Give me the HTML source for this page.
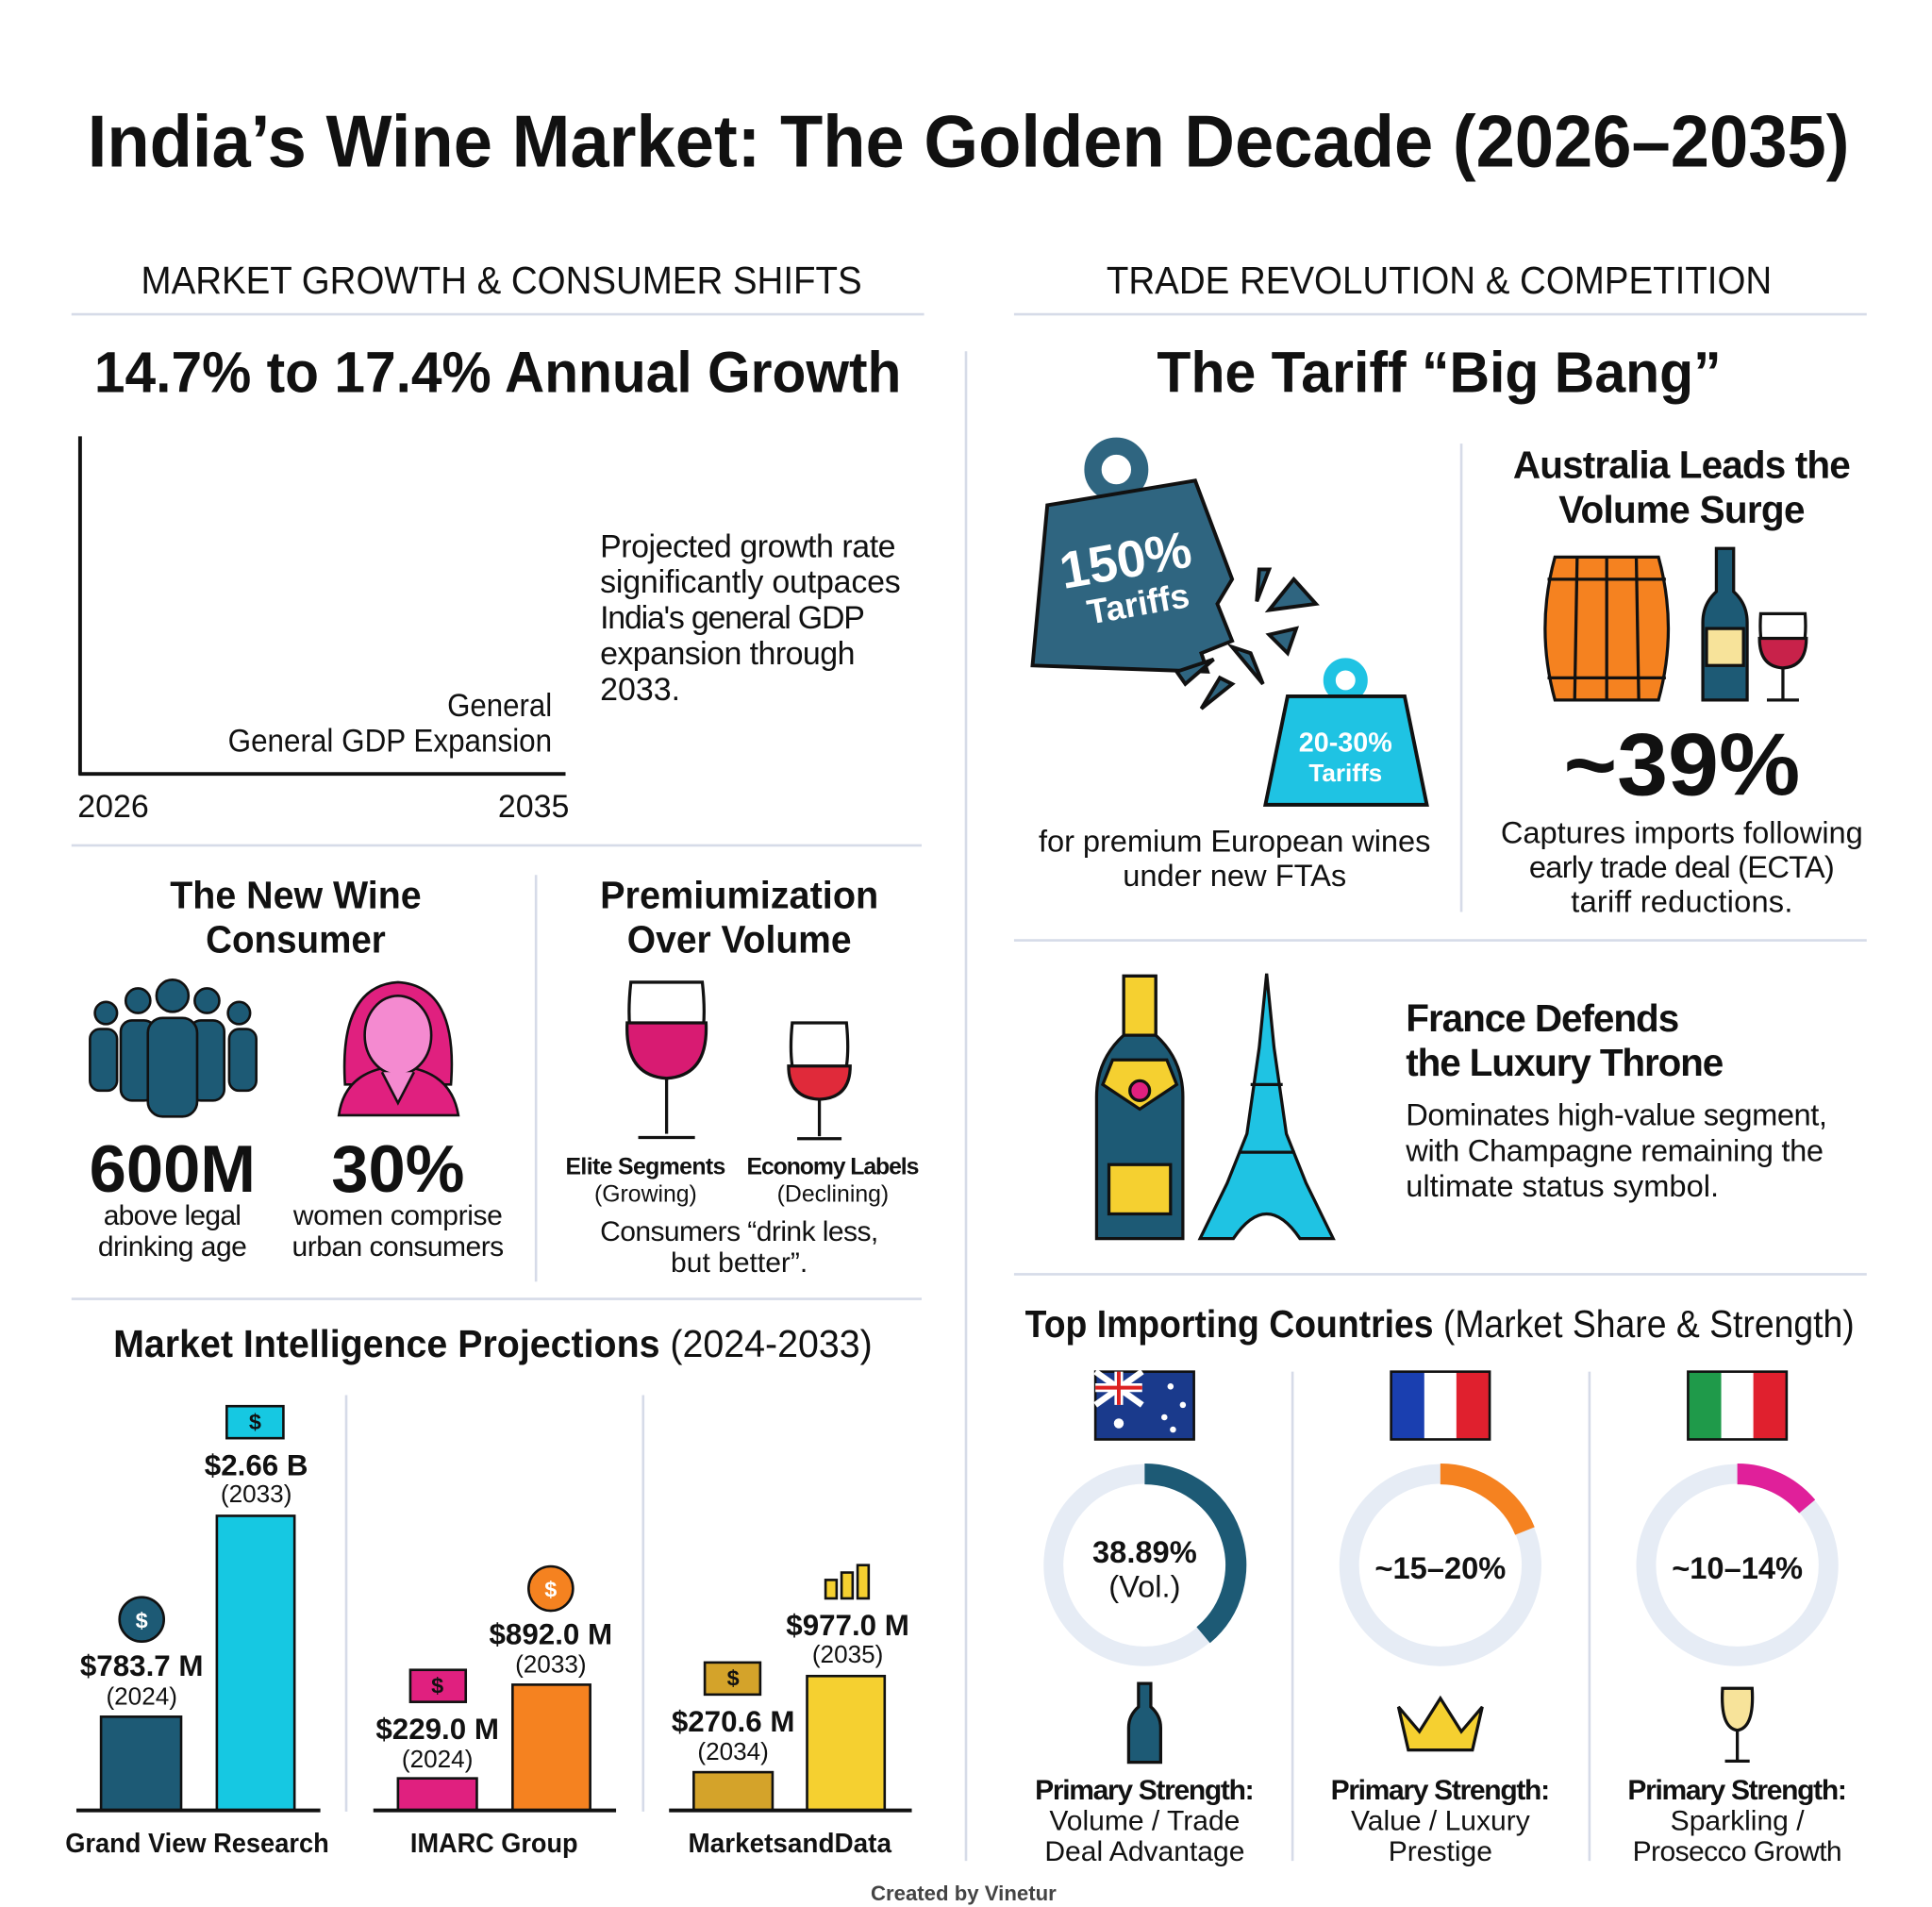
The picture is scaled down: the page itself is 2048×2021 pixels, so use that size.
<!DOCTYPE html>
<html><head><meta charset="utf-8"><style>
html,body{margin:0;padding:0;background:#fff;width:2048px;height:2021px;overflow:hidden}
svg{display:block}
text{font-family:"Liberation Sans",sans-serif;fill:#111}
.b{font-weight:bold}
</style></head><body>
<svg width="2048" height="2021" viewBox="0 0 1568 1547.4" preserveAspectRatio="none" xmlns="http://www.w3.org/2000/svg">
<rect width="1568" height="1548" fill="#fff"/>
<text x="786" y="135" text-anchor="middle" class="b" font-size="60" textLength="1430" lengthAdjust="spacingAndGlyphs">India’s Wine Market: The Golden Decade (2026–2035)</text>
<text x="407" y="238" text-anchor="middle" font-size="31" textLength="585" lengthAdjust="spacingAndGlyphs">MARKET GROWTH &amp; CONSUMER SHIFTS</text>
<text x="1168" y="238" text-anchor="middle" font-size="31" textLength="540" lengthAdjust="spacingAndGlyphs">TRADE REVOLUTION &amp; COMPETITION</text>
<g stroke="#d6dbe8" stroke-width="2">
<line x1="58" y1="255" x2="750" y2="255"/><line x1="823" y1="255" x2="1515" y2="255"/>
<line x1="784" y1="285" x2="784" y2="1510"/>
<line x1="58" y1="686" x2="748" y2="686"/>
<line x1="435" y1="710" x2="435" y2="1040"/>
<line x1="58" y1="1054" x2="748" y2="1054"/>
<line x1="281" y1="1132" x2="281" y2="1470"/><line x1="522" y1="1132" x2="522" y2="1470"/>
<line x1="1186" y1="360" x2="1186" y2="740"/>
<line x1="823" y1="763" x2="1515" y2="763"/>
<line x1="823" y1="1034" x2="1515" y2="1034"/>
<line x1="1049" y1="1113" x2="1049" y2="1510"/><line x1="1290" y1="1113" x2="1290" y2="1510"/>
</g>
<text x="404" y="318" text-anchor="middle" class="b" font-size="47" textLength="655" lengthAdjust="spacingAndGlyphs">14.7% to 17.4% Annual Growth</text>
<line x1="65" y1="354" x2="65" y2="629" stroke="#111" stroke-width="3"/>
<line x1="64" y1="628" x2="459" y2="628" stroke="#111" stroke-width="3"/>
<text x="63" y="663" font-size="26">2026</text>
<text x="462" y="663" text-anchor="end" font-size="26">2035</text>
<text x="448" y="581" text-anchor="end" font-size="26" textLength="85" lengthAdjust="spacingAndGlyphs">General</text>
<text x="448" y="610" text-anchor="end" font-size="26" textLength="263" lengthAdjust="spacingAndGlyphs">General GDP Expansion</text>
<g font-size="26" lengthAdjust="spacingAndGlyphs"><text x="487" y="452" textLength="240">Projected growth rate</text><text x="487" y="481" textLength="244">significantly outpaces</text><text x="487" y="510" textLength="215">India's general GDP</text><text x="487" y="539" textLength="207">expansion through</text><text x="487" y="568">2033.</text></g>
<g class="b" font-size="31" text-anchor="middle"><text x="240" y="737" textLength="204" lengthAdjust="spacingAndGlyphs">The New Wine</text><text x="240" y="773" textLength="146" lengthAdjust="spacingAndGlyphs">Consumer</text><text x="600" y="737" textLength="226" lengthAdjust="spacingAndGlyphs">Premiumization</text><text x="600" y="773" textLength="182" lengthAdjust="spacingAndGlyphs">Over Volume</text></g>
<g fill="#1d5a75" stroke="#111" stroke-width="2">
<circle cx="86" cy="822" r="9"/><rect x="73" y="835" width="22" height="50" rx="8"/>
<circle cx="194" cy="822" r="9"/><rect x="186" y="835" width="22" height="50" rx="8"/>
<circle cx="112" cy="812" r="10"/><rect x="98" y="828" width="28" height="65" rx="9"/>
<circle cx="168" cy="812" r="10"/><rect x="154" y="828" width="28" height="65" rx="9"/>
<circle cx="140" cy="808" r="13"/><rect x="120" y="826" width="40" height="80" rx="12"/>
</g>
<g stroke="#111" stroke-width="2">
<path d="M280 880 Q275 800 323 797 Q372 800 366 880 Z" fill="#e0207f"/>
<path d="M275 905 Q280 868 323 865 Q366 868 372 905 Z" fill="#e0207f"/>
<ellipse cx="323" cy="840" rx="27" ry="32" fill="#f48ad0"/>
<path d="M310 870 L323 895 L336 870" fill="#f48ad0"/>
</g>
<g class="b" font-size="54" text-anchor="middle"><text x="140" y="967">600M</text><text x="323" y="967">30%</text></g>
<g font-size="23" text-anchor="middle" lengthAdjust="spacingAndGlyphs"><text x="140" y="994" textLength="112">above legal</text><text x="140" y="1019" textLength="121">drinking age</text><text x="323" y="994" textLength="170">women comprise</text><text x="323" y="1019" textLength="172">urban consumers</text></g>
<g stroke="#111" stroke-width="2.5" fill="none">
<path d="M512 797 L570 797 Q578 870 541 875 Q504 870 512 797 Z" fill="#fff"/>
<path d="M509 830 L573 830 Q575 873 541 875 Q507 873 509 830Z" fill="#d81b72"/>
<line x1="541" y1="875" x2="541" y2="920"/><path d="M518 923 L564 923"/>
<path d="M643 830 L687 830 Q693 890 665 892 Q637 890 643 830 Z" fill="#fff"/>
<path d="M640 865 L690 865 Q690 891 665 892 Q640 891 640 865Z" fill="#e02a3a"/>
<line x1="665" y1="892" x2="665" y2="922"/><path d="M647 924 L683 924"/>
</g>
<g text-anchor="middle" lengthAdjust="spacingAndGlyphs"><text x="524" y="953" class="b" font-size="19" textLength="130">Elite Segments</text><text x="524" y="975" font-size="19">(Growing)</text>
<text x="676" y="953" class="b" font-size="19" textLength="140">Economy Labels</text><text x="676" y="975" font-size="19">(Declining)</text>
<text x="600" y="1007" font-size="23" textLength="226">Consumers “drink less,</text><text x="600" y="1032" font-size="23">but better”.</text></g>
<text x="400" y="1101" text-anchor="middle" font-size="31" textLength="616" lengthAdjust="spacingAndGlyphs"><tspan class="b">Market Intelligence Projections</tspan> (2024-2033)</text>
<g stroke="#111" stroke-width="2">
<rect x="82" y="1393" width="65" height="76" fill="#1d5a75"/><rect x="176" y="1230" width="63" height="239" fill="#16c8e2"/>
<rect x="323" y="1443" width="64" height="26" fill="#e0207f"/><rect x="416" y="1367" width="63" height="102" fill="#f58220"/>
<rect x="563" y="1438" width="64" height="31" fill="#d4a32a"/><rect x="655" y="1360" width="63" height="109" fill="#f5d030"/>
</g>
<g stroke="#111" stroke-width="3"><line x1="62" y1="1469" x2="260" y2="1469"/><line x1="303" y1="1469" x2="500" y2="1469"/><line x1="543" y1="1469" x2="740" y2="1469"/></g>
<g stroke="#111" stroke-width="2">
<rect x="184" y="1141" width="46" height="26" fill="#16c8e2"/><circle cx="115" cy="1314" r="18" fill="#1d5a75"/><circle cx="447" cy="1289" r="18" fill="#f58220"/>
<rect x="333" y="1355" width="45" height="26" fill="#e0207f"/><rect x="572" y="1349" width="45" height="26" fill="#d4a32a"/>
<rect x="670" y="1282" width="9" height="15" fill="#f5d030"/><rect x="683" y="1276" width="9" height="21" fill="#f5d030"/><rect x="696" y="1270" width="9" height="27" fill="#f5d030"/>
</g>
<g text-anchor="middle" class="b" font-size="18"><text x="207" y="1160">$</text><text x="115" y="1321" style="fill:#fff">$</text><text x="447" y="1296" style="fill:#fff">$</text><text x="355" y="1374">$</text><text x="595" y="1368">$</text></g>
<g text-anchor="middle">
<text x="208" y="1197" class="b" font-size="24">$2.66 B</text><text x="208" y="1219" font-size="20">(2033)</text>
<text x="115" y="1360" class="b" font-size="24">$783.7 M</text><text x="115" y="1383" font-size="20">(2024)</text>
<text x="447" y="1334" class="b" font-size="24">$892.0 M</text><text x="447" y="1357" font-size="20">(2033)</text>
<text x="355" y="1411" class="b" font-size="24">$229.0 M</text><text x="355" y="1434" font-size="20">(2024)</text>
<text x="688" y="1327" class="b" font-size="24">$977.0 M</text><text x="688" y="1349" font-size="20">(2035)</text>
<text x="595" y="1405" class="b" font-size="24">$270.6 M</text><text x="595" y="1428" font-size="20">(2034)</text>
<text x="160" y="1503" class="b" font-size="22" textLength="214" lengthAdjust="spacingAndGlyphs">Grand View Research</text><text x="401" y="1503" class="b" font-size="22" textLength="136" lengthAdjust="spacingAndGlyphs">IMARC Group</text><text x="641" y="1503" class="b" font-size="22" textLength="165" lengthAdjust="spacingAndGlyphs">MarketsandData</text>
</g>
<text x="1168" y="318" text-anchor="middle" class="b" font-size="47" textLength="458" lengthAdjust="spacingAndGlyphs">The Tariff “Big Bang”</text>
<g stroke="#111" stroke-width="3">
<circle cx="906" cy="381" r="19" fill="none" stroke="#2f6580" stroke-width="14"/>
<polygon points="850,410 970,390 1000,470 988,490 1000,520 975,530 980,545 838,540" fill="#2f6580"/>
<circle cx="1092" cy="552" r="13" fill="none" stroke="#1fc3e3" stroke-width="10"/>
<polygon points="1045,565 1140,565 1158,653 1027,653" fill="#1fc3e3"/>
<polygon points="1022,462 1030,462 1020,488" fill="#2f6580"/><polygon points="1050,470 1068,490 1030,495" fill="#2f6580"/>
<polygon points="1030,515 1052,510 1045,530" fill="#2f6580"/><polygon points="1000,525 1025,555 1015,530" fill="#2f6580"/>
<polygon points="955,545 985,535 962,555" fill="#2f6580"/><polygon points="990,550 975,575 1000,555" fill="#2f6580"/>
</g>
<g transform="rotate(-10 920 480)" text-anchor="middle" class="b"><text x="918" y="468" font-size="42" style="fill:#fff">150%</text><text x="922" y="500" font-size="28" style="fill:#fff">Tariffs</text></g>
<text x="1092" y="610" text-anchor="middle" class="b" font-size="22" style="fill:#fff">20-30%</text><text x="1092" y="634" text-anchor="middle" class="b" font-size="20" style="fill:#fff">Tariffs</text>
<g text-anchor="middle" font-size="25" lengthAdjust="spacingAndGlyphs"><text x="1002" y="691" textLength="318">for premium European wines</text><text x="1002" y="719">under new FTAs</text></g>
<g class="b" font-size="31" text-anchor="middle" lengthAdjust="spacingAndGlyphs"><text x="1365" y="388" textLength="274">Australia Leads the</text><text x="1365" y="424" textLength="200">Volume Surge</text></g>
<g stroke="#111" stroke-width="2.5">
<path d="M1262 452 L1346 452 Q1362 510 1346 568 L1262 568 Q1246 510 1262 452Z" fill="#f58220"/>
<line x1="1256" y1="470" x2="1352" y2="470"/><line x1="1256" y1="550" x2="1352" y2="550"/>
<line x1="1280" y1="452" x2="1278" y2="568"/><line x1="1304" y1="452" x2="1304" y2="568"/><line x1="1328" y1="452" x2="1330" y2="568"/>
<path d="M1393 445 L1407 445 L1407 480 Q1418 490 1418 505 L1418 568 L1382 568 L1382 505 Q1382 490 1393 480Z" fill="#1d5a75"/>
<rect x="1385" y="510" width="30" height="30" fill="#f7e39a"/>
<path d="M1429 498 L1465 498 Q1468 540 1447 542 Q1426 540 1429 498Z" fill="#fff"/>
<path d="M1428 518 L1466 518 Q1466 541 1447 542 Q1428 541 1428 518Z" fill="#c8224a"/>
<line x1="1447" y1="542" x2="1447" y2="568"/><line x1="1434" y1="568" x2="1460" y2="568"/>
</g>
<text x="1365" y="645" text-anchor="middle" class="b" font-size="72" textLength="192" lengthAdjust="spacingAndGlyphs">~39%</text>
<g text-anchor="middle" font-size="25" lengthAdjust="spacingAndGlyphs"><text x="1365" y="684" textLength="294">Captures imports following</text><text x="1365" y="712" textLength="248">early trade deal (ECTA)</text><text x="1365" y="740" textLength="180">tariff reductions.</text></g>
<g stroke="#111" stroke-width="2.5">
<path d="M912 792 L938 792 L938 840 Q960 860 960 890 L960 1005 L890 1005 L890 890 Q890 860 912 840Z" fill="#1d5a75"/>
<path d="M912 792 L938 792 L938 840 L912 840Z" fill="#f5d030"/>
<path d="M903 860 L947 860 L955 880 L925 900 L895 880Z" fill="#f5d030"/>
<circle cx="925" cy="885" r="8" fill="#e0207f"/>
<rect x="900" y="945" width="50" height="40" fill="#f5d030"/>
<path d="M1028 790 L1034 850 L1044 920 L1060 960 L1082 1005 L1055 1005 Q1028 965 1001 1005 L974 1005 L996 960 L1012 920 L1022 850Z" fill="#1fc3e3"/>
<line x1="1005" y1="935" x2="1051" y2="935"/><line x1="1015" y1="880" x2="1041" y2="880"/>
</g>
<g class="b" font-size="31" lengthAdjust="spacingAndGlyphs"><text x="1141" y="837" textLength="222">France Defends</text><text x="1141" y="873" textLength="258">the Luxury Throne</text></g>
<g font-size="25" lengthAdjust="spacingAndGlyphs"><text x="1141" y="913" textLength="342">Dominates high-value segment,</text><text x="1141" y="942" textLength="339">with Champagne remaining the</text><text x="1141" y="971" textLength="254">ultimate status symbol.</text></g>
<text x="832" y="1085" font-size="31" textLength="673" lengthAdjust="spacingAndGlyphs"><tspan class="b">Top Importing Countries</tspan> (Market Share &amp; Strength)</text>
<rect x="889" y="1113" width="80" height="55" fill="#1a3a8c" stroke="#111" stroke-width="2"/>
<path d="M889 1113 L927 1140 M927 1113 L889 1140" stroke="#fff" stroke-width="5"/><path d="M908 1113 V1140 M889 1126 H927" stroke="#fff" stroke-width="7"/><path d="M908 1113 V1140 M889 1126 H927" stroke="#d22" stroke-width="3"/>
<g fill="#fff"><circle cx="908" cy="1155" r="4"/><circle cx="950" cy="1125" r="2.5"/><circle cx="960" cy="1140" r="2.5"/><circle cx="945" cy="1150" r="2.5"/><circle cx="952" cy="1160" r="2.5"/></g>
<rect x="1129" y="1113" width="27" height="55" fill="#1a3fb0"/><rect x="1156" y="1113" width="26" height="55" fill="#fff"/><rect x="1182" y="1113" width="27" height="55" fill="#e0202e"/><rect x="1129" y="1113" width="80" height="55" fill="none" stroke="#111" stroke-width="2"/>
<rect x="1370" y="1113" width="27" height="55" fill="#1f9a4a"/><rect x="1397" y="1113" width="26" height="55" fill="#fff"/><rect x="1423" y="1113" width="27" height="55" fill="#e0202e"/><rect x="1370" y="1113" width="80" height="55" fill="none" stroke="#111" stroke-width="2"/>
<g fill="none" stroke="#e6ecf5" stroke-width="16"><circle cx="929" cy="1270" r="74"/><circle cx="1169" cy="1270" r="74"/><circle cx="1410" cy="1270" r="74"/></g>
<path d="M929 1196 A74 74 0 0 1 976.6 1326.7" fill="none" stroke="#1d5a75" stroke-width="17"/>
<path d="M1169 1196 A74 74 0 0 1 1237.6 1242.3" fill="none" stroke="#f58220" stroke-width="17"/>
<path d="M1410 1196 A74 74 0 0 1 1466.7 1222.4" fill="none" stroke="#e0209a" stroke-width="17"/>
<g text-anchor="middle" class="b" font-size="25"><text x="929" y="1268">38.89%</text><text x="1169" y="1281">~15–20%</text><text x="1410" y="1281">~10–14%</text></g>
<text x="929" y="1296" text-anchor="middle" font-size="25">(Vol.)</text>
<g stroke="#111" stroke-width="2.5">
<path d="M924 1366 L934 1366 L934 1385 Q942 1392 942 1402 L942 1430 L916 1430 L916 1402 Q916 1392 924 1385Z" fill="#1d5a75"/>
<path d="M1135 1385 L1152 1405 L1169 1378 L1186 1405 L1203 1385 L1195 1420 L1143 1420Z" fill="#f5d030"/>
<path d="M1398 1370 L1422 1370 Q1424 1402 1410 1404 Q1396 1402 1398 1370Z" fill="#f7e39a"/><line x1="1410" y1="1404" x2="1410" y2="1428"/><line x1="1400" y1="1429" x2="1420" y2="1429"/>
</g>
<g text-anchor="middle" font-size="23" lengthAdjust="spacingAndGlyphs">
<text x="929" y="1460" class="b" textLength="178">Primary Strength:</text><text x="929" y="1485">Volume / Trade</text><text x="929" y="1510">Deal Advantage</text>
<text x="1169" y="1460" class="b" textLength="178">Primary Strength:</text><text x="1169" y="1485">Value / Luxury</text><text x="1169" y="1510">Prestige</text>
<text x="1410" y="1460" class="b" textLength="178">Primary Strength:</text><text x="1410" y="1485">Sparkling /</text><text x="1410" y="1510" textLength="170">Prosecco Growth</text>
</g>
<text x="782" y="1542" text-anchor="middle" class="b" font-size="17" style="fill:#444">Created by Vinetur</text>
</svg>
</body></html>
